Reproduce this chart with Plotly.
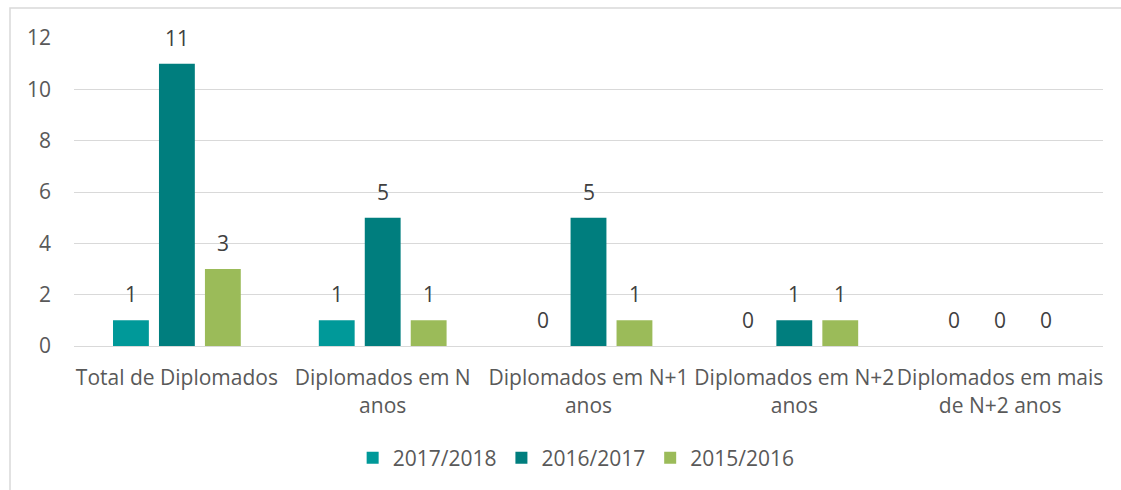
import plotly.graph_objects as go

# Graduates by time to completion, three academic years
categories = [
    "Total de Diplomados",
    "Diplomados em N<br>anos",
    "Diplomados em N+1<br>anos",
    "Diplomados em N+2<br>anos",
    "Diplomados em mais<br>de N+2 anos",
]
series_names = ["2017/2018", "2016/2017", "2015/2016"]
values_2017_2018 = [1, 1, 0, 0, 0]
values_2016_2017 = [11, 5, 5, 1, 0]
values_2015_2016 = [3, 1, 1, 1, 0]
series_colors = ["#009999", "#007E7E", "#9BBB59"]

y_ticks = [0, 2, 4, 6, 8, 10, 12]

FONT = "Open Sans"
SIZE = 21

all_series = [values_2017_2018, values_2016_2017, values_2015_2016]

fig = go.Figure()
for name, vals, color in zip(series_names, all_series, series_colors):
    fig.add_trace(go.Bar(
        name=name,
        x=categories,
        y=vals,
        marker=dict(color=color, line=dict(width=0)),
        cliponaxis=False,
    ))

# Value labels above each bar (pixel shift of each series within its group)
group_shift = [-46, 0, 46]
for vals, dx in zip(all_series, group_shift):
    for cat, v in zip(categories, vals):
        fig.add_annotation(
            x=cat, y=v, xref="x", yref="y",
            text=str(v), showarrow=False,
            xshift=dx, yshift=26,
            xanchor="center", yanchor="middle",
            font=dict(family=FONT, size=SIZE, color="#404040"),
        )

fig.update_layout(
    width=1121,
    height=490,
    margin=dict(l=74, r=18, t=38, b=144),
    paper_bgcolor="white",
    plot_bgcolor="white",
    barmode="group",
    bargap=0.33,
    bargroupgap=0.22,
    font=dict(family=FONT, size=SIZE, color="#595959"),
    showlegend=True,
    legend=dict(
        orientation="h",
        x=0.488, xanchor="center",
        y=-0.364, yanchor="middle",
        font=dict(family=FONT, size=SIZE, color="#595959"),
        itemwidth=30,
        traceorder="normal",
    ),
)

fig.update_xaxes(
    showgrid=False,
    showline=True,
    linecolor="#D9D9D9",
    linewidth=1,
    ticks="",
    ticklabelstandoff=13,
    tickfont=dict(family=FONT, size=SIZE, color="#595959"),
)
fig.update_yaxes(
    range=[0, 12],
    tickvals=y_ticks,
    showgrid=True,
    gridcolor="#D9D9D9",
    gridwidth=1,
    zeroline=False,
    showline=False,
    ticks="",
    ticklabelstandoff=22,
    tickfont=dict(family=FONT, size=SIZE, color="#595959"),
)

# Chart frame
fig.add_shape(
    type="rect", xref="paper", yref="paper",
    x0=-0.0622, x1=1.2, y0=-0.7, y1=1.097,
    line=dict(color="#D9D9D9", width=1.5),
    fillcolor="rgba(0,0,0,0)",
    layer="below",
)

fig.write_html("out.html")
